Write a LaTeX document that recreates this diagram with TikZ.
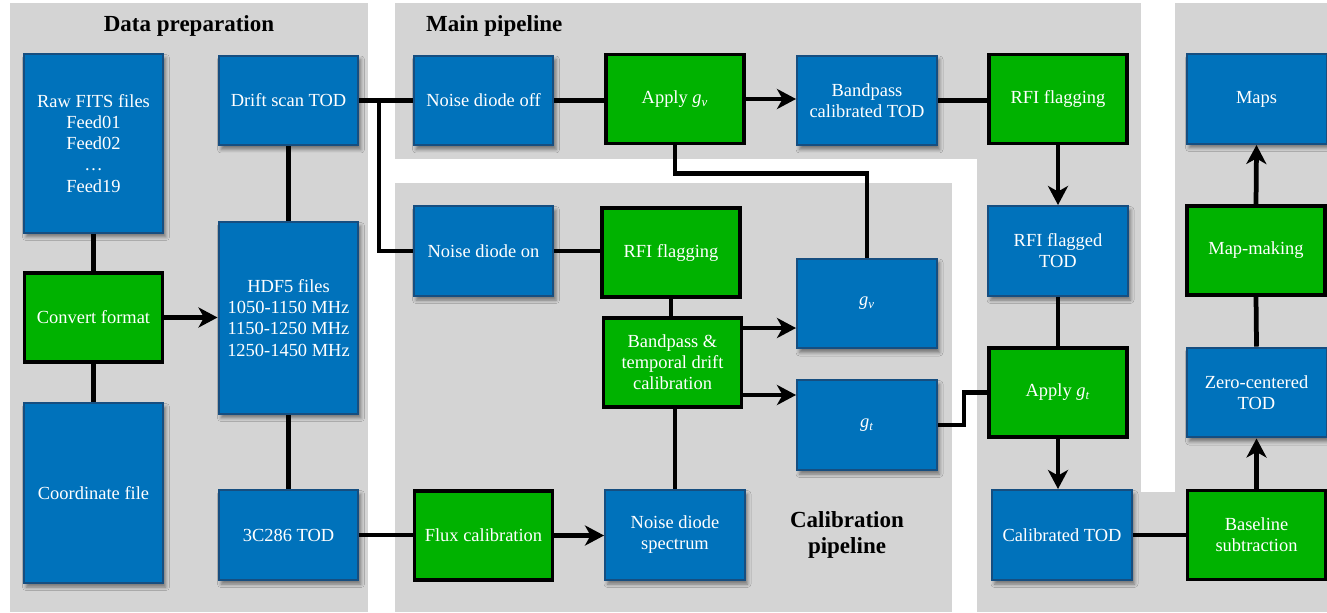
\documentclass[tikz,border=0pt]{standalone}
\usepackage{fontspec}
\setmainfont{Liberation Serif}
\usepackage{tikz}
\usetikzlibrary{shapes,arrows.meta,positioning,shadows.blur,calc}
\definecolor{panelgray}{RGB}{212,212,212}
\definecolor{fileblue}{RGB}{0,114,187}
\definecolor{fileedge}{RGB}{22,78,128}
\definecolor{stepgreen}{RGB}{0,178,0}
\newcommand{\gnu}{\textit{g}\textsubscript{\textit{ν}}}
\newcommand{\gt}{\textit{g}\textsubscript{\textit{t}}}

\begin{document}
\begin{tikzpicture}[
			x=0.02cm,
			y=-0.02cm,
			panel/.style={
				fill=panelgray,
				draw=none
			},
			title/.style={
				font=\fontsize{13.1}{15}\selectfont\bfseries,
				align=center
			},
			filebox/.style={
				rectangle,
				draw=fileedge,
				line width=0.04cm,
				fill=fileblue,
				text=white,
				minimum width=2.8cm,
				minimum height=1.8cm,
				inner sep=2pt,
				align=center,
				font=\fontsize{10.5}{12}\selectfont,
				blur shadow={shadow xshift=0.05cm, shadow yshift=-0.08cm, shadow blur radius=0.07cm, shadow opacity=45}
			},
			stepbox/.style={
				rectangle,
				draw=black,
				line width=0.07cm,
				fill=stepgreen,
				text=white,
				minimum width=2.76cm,
				minimum height=1.78cm,
				inner sep=2pt,
				align=center,
				font=\fontsize{10.5}{12}\selectfont
			},
			link/.style={line width=0.095cm},
			arrow/.style={link, -{Stealth[length=0.38cm,width=0.4cm,inset=0.11cm]}}
			]
			\useasboundingbox (0,0) rectangle (1327,612);
			% Grey panels behind the three stages
			\fill[panel] (10,3) rectangle (368,612);
			\fill[panel] (395,3) rectangle (1141,159);
			\fill[panel] (977,3) rectangle (1141,612);
			\fill[panel] (1175,3) rectangle (1327,612);
			\fill[panel] (977,492) rectangle (1327,612);
			\fill[panel] (395,183) rectangle (952,612);
			\node[title] (preptitle) at (189,26) {Data preparation};
			\node[title, anchor=west] (maintitle) at (420,26) {Main pipeline};
			\node[title] (caltitle) at (847,535) {Calibration\\pipeline};
			% Data preparation
			\node[filebox, minimum height=3.58cm] (raw) at (93.5,143.5) {Raw FITS files\\Feed01\\Feed02\\\ldots\\Feed19};
			\node[stepbox] (convert) at (93.5,317.5) {Convert format};
			\node[filebox, minimum height=3.6cm] (coord) at (93.5,493) {Coordinate file};
			\node[filebox] (drift) at (288.5,100.5) {Drift scan TOD};
			\node[filebox, minimum height=3.84cm] (hdf) at (288.5,318) {HDF5 files\\1050-1150 MHz\\1150-1250 MHz\\1250-1450 MHz};
			\node[filebox] (srctod) at (288.5,535) {3C286 TOD};
			% Main pipeline
			\node[filebox] (diodeoff) at (483.5,100.5) {Noise diode off};
			\node[stepbox] (applynu) at (675,99) {Apply \gnu};
			\node[filebox] (bpcal) at (867,100.5) {Bandpass\\calibrated TOD};
			\node[stepbox] (rfimain) at (1058,99) {RFI flagging};
			\node[filebox] (rfitod) at (1058,251) {RFI flagged\\TOD};
			\node[stepbox] (applyt) at (1058,392.5) {Apply \gt};
			\node[filebox] (caltod) at (1062,535) {Calibrated TOD};
			% Calibration pipeline
			\node[filebox] (diodeon) at (483.5,251) {Noise diode on};
			\node[stepbox] (rfical) at (671,252.5) {RFI flagging};
			\node[stepbox] (drift_cal) at (672.5,362.5) {Bandpass \&\\temporal drift\\calibration};
			\node[filebox] (gnu) at (867,303.5) {\gnu};
			\node[filebox] (gt) at (867,425) {\gt};
			\node[stepbox] (flux) at (483.5,535.5) {Flux calibration};
			\node[filebox] (spectrum) at (675,535) {Noise diode\\spectrum};
			% Map making
			\node[filebox] (maps) at (1256.5,99) {Maps};
			\node[stepbox] (mapmaking) at (1256,250.5) {Map-making};
			\node[filebox] (zero) at (1256.5,392.5) {Zero-centered\\TOD};
			\node[stepbox] (baseline) at (1256.5,535) {Baseline\\subtraction};
			% Connectors
			\draw[link] (raw.south) -- (convert.north);
			\draw[link] (convert.south) -- (coord.north);
			\draw[arrow] (convert.east) -- (convert.east -| hdf.west);
			\draw[link] (drift.south) -- (hdf.north);
			\draw[link] (hdf.south) -- (srctod.north);
			\draw[link] (drift.east) -- (diodeoff.west);
			\coordinate (split) at (379,100.5);
			\draw[link] (split) |- (diodeon.west);
			\draw[link] (diodeoff.east) -- (diodeoff.east -| applynu.west);
			\draw[arrow] (applynu.east) -- (applynu.east -| bpcal.west);
			\draw[link] (bpcal.east) -- (bpcal.east -| rfimain.west);
			\draw[arrow] (rfimain.south) -- (rfitod.north);
			\draw[link] (rfitod.south) -- (applyt.north);
			\draw[arrow] (applyt.south) -- (applyt.south |- caltod.north);
			\draw[link] (caltod.east) -- (baseline.west);
			\draw[arrow] (baseline.north) -- (zero.south);
			\draw[link] (zero.north) -- (mapmaking.south);
			\draw[arrow] (mapmaking.north) -- (maps.south);
			\draw[link] (diodeon.east) -- (diodeon.east -| rfical.west);
			\draw[link] (rfical.south) -- (rfical.south |- drift_cal.north);
			\coordinate (gnuout) at ([yshift=0.69cm]drift_cal.east);
			\coordinate (gtout) at ([yshift=-0.65cm]drift_cal.east);
			\draw[arrow] (gnuout) -- (gnuout -| gnu.west);
			\draw[arrow] (gtout) -- (gtout -| gt.west);
			\draw[link] (applynu.south) -- ++(0,28) -| (gnu.north);
			\draw[link] (gt.east) -- ++(26,0) |- (applyt.west);
			\draw[link] (srctod.east) -- (srctod.east -| flux.west);
			\draw[arrow] (flux.east) -- (flux.east -| spectrum.west);
			\draw[link] (spectrum.north) -- (spectrum.north |- drift_cal.south);
		\end{tikzpicture}
\end{document}
